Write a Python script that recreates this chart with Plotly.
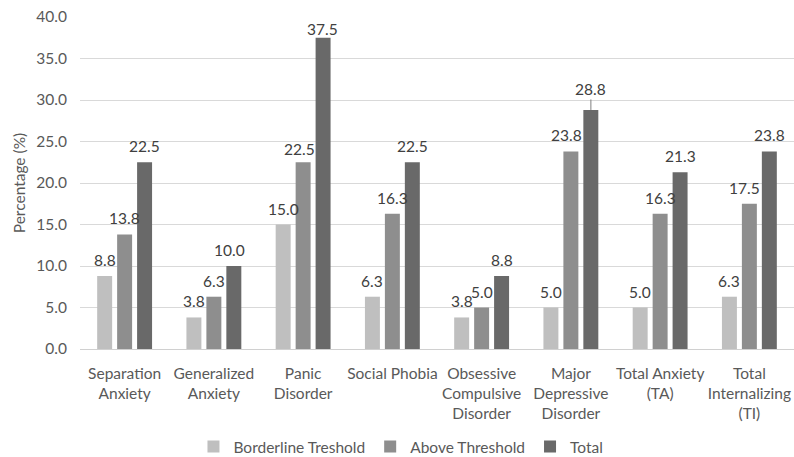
import plotly.graph_objects as go

# Prevalence of internalizing problems by disorder
categories = [
    "Separation<br>Anxiety",
    "Generalized<br>Anxiety",
    "Panic<br>Disorder",
    "Social Phobia",
    "Obsessive<br>Compulsive<br>Disorder",
    "Major<br>Depressive<br>Disorder",
    "Total Anxiety<br>(TA)",
    "Total<br>Internalizing<br>(TI)",
]
series_names = ["Borderline Treshold", "Above Threshold", "Total"]
borderline = [8.8, 3.8, 15.0, 6.3, 3.8, 5.0, 5.0, 6.3]
above = [13.8, 6.3, 22.5, 16.3, 5.0, 23.8, 16.3, 17.5]
total = [22.5, 10.0, 37.5, 22.5, 8.8, 28.8, 21.3, 23.8]
y_ticks = [0, 5, 10, 15, 20, 25, 30, 35, 40]

series_values = [borderline, above, total]
colors = ["#BFBFBF", "#8E8E8E", "#696969"]

FONT = "Lato"
FSIZE = 15.5
TICK_COLOR = "#595959"
LABEL_COLOR = "#404040"

# pixel nudges for labels that would otherwise crowd their neighbours
label_nudge = {
    (2, 1): (-4, 0),
    (1, 2): (-4, -3),
    (2, 2): (-1, -7),
    (1, 5): (-4, 0),
    (1, 7): (-5, 0),
}
leader_line = {(2, 5): -21}

fig = go.Figure()
for name, vals, col in zip(series_names, series_values, colors):
    fig.add_trace(go.Bar(
        name=name, x=categories, y=vals,
        marker=dict(color=col, line=dict(width=0)),
        hoverinfo="x+y",
    ))

slot_px = 20
annotations = []
for i, vals in enumerate(series_values):
    for j, v in enumerate(vals):
        dx, dy = label_nudge.get((i, j), (0, 0))
        base = dict(
            x=categories[j], y=v, xref="x", yref="y",
            text=f"{v:.1f}",
            font=dict(family=FONT, size=FSIZE, color=LABEL_COLOR),
            xshift=(i - 1) * slot_px + dx,
        )
        if (i, j) in leader_line:
            base.update(showarrow=True, ax=0, ay=leader_line[(i, j)],
                        arrowhead=0, arrowwidth=1, arrowcolor="#7f7f7f",
                        standoff=0, startstandoff=0)
        else:
            base.update(showarrow=False, yshift=16 + dy)
        annotations.append(base)

fig.update_layout(
    width=794, height=457,
    margin=dict(l=80, r=0, t=17, b=108),
    paper_bgcolor="white", plot_bgcolor="white",
    barmode="group", bargap=0.329, bargroupgap=0.25,
    font=dict(family=FONT, size=FSIZE, color=TICK_COLOR),
    annotations=annotations,
    showlegend=True,
    legend=dict(
        orientation="h", xref="container", yref="container",
        x=0.505, xanchor="center", y=10 / 457, yanchor="middle",
        font=dict(family=FONT, size=FSIZE, color=TICK_COLOR),
        itemwidth=30, traceorder="normal",
    ),
)
fig.update_xaxes(
    showgrid=False, showline=False, ticks="", ticklabelstandoff=13,
    tickfont=dict(family=FONT, size=FSIZE, color=TICK_COLOR),
)
fig.update_yaxes(
    range=[0, 40], tickvals=y_ticks, tickformat=".1f",
    showgrid=True, gridcolor="#D9D9D9", gridwidth=1,
    zeroline=True, zerolinecolor="#D0D0D0", zerolinewidth=1,
    showline=False, ticks="", ticklabelstandoff=12,
    tickfont=dict(family=FONT, size=FSIZE, color=TICK_COLOR),
    title=dict(text="Percentage (%)", standoff=6,
               font=dict(family=FONT, size=FSIZE, color=TICK_COLOR)),
)

fig.write_html("out.html")
